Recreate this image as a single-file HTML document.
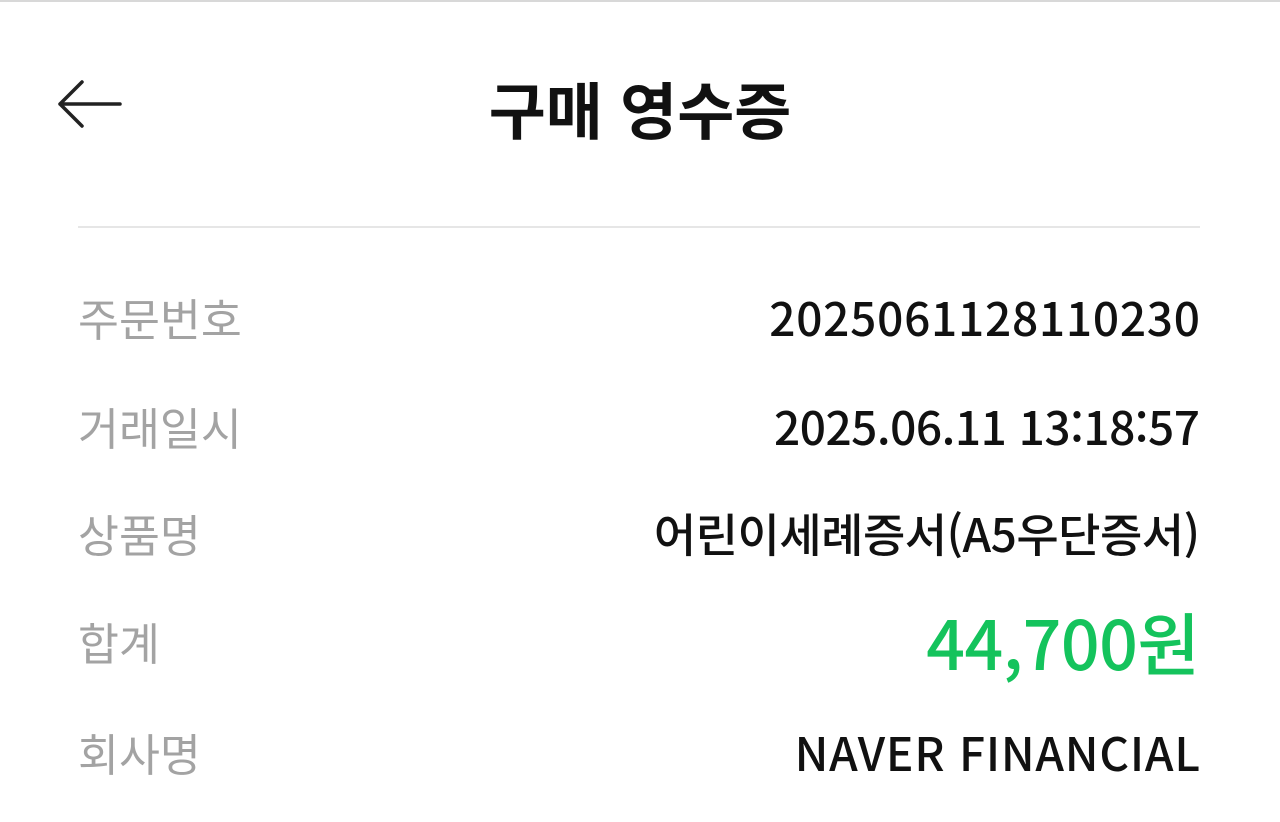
<!DOCTYPE html>
<html lang="ko">
<head>
<meta charset="utf-8">
<style>
  html,body{margin:0;padding:0;}
  body{width:1280px;height:822px;background:#fff;position:relative;overflow:hidden;
    font-family:"Liberation Sans","Noto Sans CJK KR",sans-serif;}
  .topline{position:absolute;left:0;top:0;width:1280px;height:2px;background:#d8d8d8;}
  .back{position:absolute;left:56px;top:78px;width:68px;height:52px;}
  .title{position:absolute;left:0;width:1280px;top:72px;line-height:70px;text-align:center;font-size:62px;font-weight:bold;color:#111;
    font-family:"Noto Sans CJK KR",sans-serif;}
  .divider{position:absolute;left:78px;top:226px;width:1122px;height:2px;background:#e6e6e6;}
  .row{position:absolute;left:78px;width:1122px;height:60px;}
  .label{position:absolute;left:0;top:0;font-size:44.5px;color:#a3a3a3;font-family:"Noto Sans CJK KR",sans-serif;line-height:60px;}
  .value{position:absolute;right:0;top:0;font-size:46px;font-weight:500;color:#111;line-height:60px;font-family:"Noto Sans CJK KR",sans-serif;}
  .total{font-size:68px;color:#14c35c;}
</style>
</head>
<body>
<div class="topline"></div>
<svg class="back" viewBox="0 0 68 52">
  <path d="M4 26 H64 M26 4 L4 26 L26 48" fill="none" stroke="#222" stroke-width="3.5" stroke-linecap="round" stroke-linejoin="round"/>
</svg>
<div class="title">구매 영수증</div>
<div class="divider"></div>

<div class="row" style="top:287px">
  <div class="label">주문번호</div>
  <div class="value" style="letter-spacing:0.75px;margin-right:-0.75px">2025061128110230</div>
</div>
<div class="row" style="top:396px">
  <div class="label">거래일시</div>
  <div class="value" style="letter-spacing:-0.5px;margin-right:0.5px">2025.06.11 13:18:57</div>
</div>
<div class="row" style="top:503px">
  <div class="label">상품명</div>
  <div class="value" style="letter-spacing:-0.5px;margin-right:0.5px">어린이세례증서(A5우단증서)</div>
</div>
<div class="row" style="top:611px">
  <div class="label">합계</div>
  <div class="value total" style="letter-spacing:-0.5px;margin-right:0.5px">44,700원</div>
</div>
<div class="row" style="top:722px">
  <div class="label">회사명</div>
  <div class="value" style="letter-spacing:0.8px;margin-right:-0.8px">NAVER FINANCIAL</div>
</div>
</body>
</html>
